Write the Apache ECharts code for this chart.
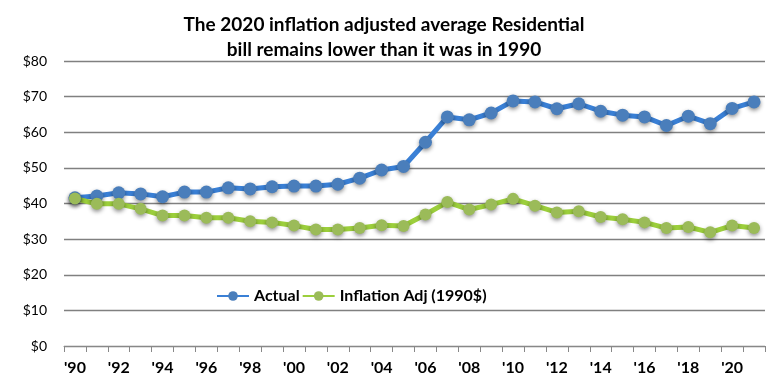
<!DOCTYPE html>
<html>
<head>
<meta charset="utf-8">
<script src="https://cdn.jsdelivr.net/npm/echarts@6/dist/echarts.min.js"></script>
<style>html,body{margin:0;padding:0;background:#fff}#c{width:768px;height:385px}</style>
</head>
<body>
<div id="c"></div>
<script>
const years = ["'90","'91","'92","'93","'94","'95","'96","'97","'98","'99","'00","'01","'02","'03","'04","'05","'06","'07","'08","'09","'10","'11","'12","'13","'14","'15","'16","'17","'18","'19","'20","'21"];
const actual = [41.6,42.1,43.0,42.7,41.9,43.2,43.2,44.4,44.1,44.7,44.9,44.9,45.4,47.1,49.4,50.4,57.2,64.3,63.5,65.4,68.8,68.5,66.6,68.0,65.9,64.8,64.3,61.9,64.5,62.4,66.7,68.5];
const inflationAdj = [41.4,39.9,39.9,38.5,36.6,36.6,36.0,36.0,35.0,34.7,33.8,32.7,32.7,33.1,33.9,33.7,36.9,40.4,38.3,39.7,41.3,39.4,37.5,37.8,36.2,35.6,34.7,33.1,33.4,31.9,33.8,33.1];
const yTicks = [0,10,20,30,40,50,60,70,80];

const chart = echarts.init(document.getElementById('c'), null, {renderer:'canvas'});
const font = 'Lato, "Open Sans", sans-serif';
chart.setOption({
  animation: false,
  title: {
    text: 'The 2020 inflation adjusted average Residential\nbill remains lower than it was in 1990',
    left: 'center', top: 7,
    textStyle: {fontFamily: font, fontWeight: 'bold', fontSize: 19, color: '#000', lineHeight: 25}
  },
  legend: {
    left: 211, top: 283, itemGap: 2, itemWidth: 32, itemHeight: 12,
    textStyle: {fontFamily: font, fontWeight: 'bold', fontSize: 16, color: '#000'},
    data: ['Actual', 'Inflation Adj (1990$)']
  },
  grid: {left: 64, right: 3, top: 61, bottom: 39, containLabel: false},
  xAxis: {
    type: 'category', data: years, boundaryGap: true,
    axisLine: {lineStyle: {color: '#888', width: 1}},
    axisTick: {show: true, interval: 0, length: 6, lineStyle: {color: '#888'}},
    axisLabel: {interval: 1, margin: 14, fontFamily: font, fontWeight: 'bold', fontSize: 16, color: '#000'}
  },
  yAxis: {
    type: 'value', min: yTicks[0], max: yTicks[yTicks.length-1], interval: 10,
    axisLine: {show: false}, axisTick: {show: false},
    splitLine: {lineStyle: {color: '#808080', width: 1.3}},
    axisLabel: {margin: 17, fontFamily: font, fontSize: 14, color: '#000', formatter: v => '$' + v}
  },
  series: [
    {
      name: 'Actual', type: 'line', data: actual,
      symbol: 'circle', symbolSize: 13,
      lineStyle: {color: '#3a80d6', width: 5},
      itemStyle: {color: '#4a7ebb', shadowBlur: 4, shadowColor: 'rgba(0,0,0,0.45)', shadowOffsetY: 2}
    },
    {
      name: 'Inflation Adj (1990$)', type: 'line', data: inflationAdj,
      symbol: 'circle', symbolSize: 12,
      lineStyle: {color: '#9ccf3c', width: 5},
      itemStyle: {color: '#9bbb59', shadowBlur: 4, shadowColor: 'rgba(0,0,0,0.45)', shadowOffsetY: 2}
    }
  ]
});
</script>
</body>
</html>
